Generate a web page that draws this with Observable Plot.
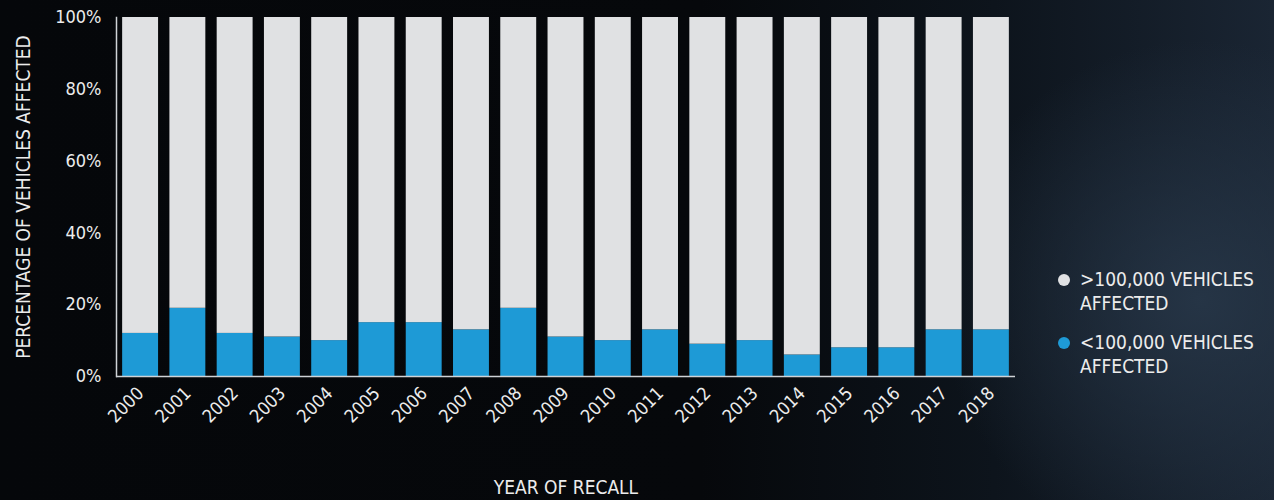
<!DOCTYPE html>
<html>
<head>
<meta charset="utf-8">
<script src="https://cdn.jsdelivr.net/npm/d3@7"></script>
<script src="https://cdn.jsdelivr.net/npm/@observablehq/plot@0.6"></script>
<style>
  html, body { margin: 0; padding: 0; }
  body {
    width: 1274px; height: 500px; overflow: hidden; position: relative;
    background:
      radial-gradient(ellipse 260px 260px at 1200px 300px, rgba(40,56,74,0.85), rgba(20,28,38,0) 100%),
      linear-gradient(to right, #05070a 0%, #06080b 55%, #0d141c 78%, #1a2533 100%);
    font-family: "DejaVu Sans Condensed", "DejaVu Sans", sans-serif;
    color: #ececec;
  }
  #chart { position: absolute; left: 0; top: 0; }
  .legend { position: absolute; left: 1056px; top: 267px; font-size: 19px; line-height: 24px; }
  .item { position: relative; padding-left: 24px; margin-bottom: 15px; }
  .dot { position: absolute; left: 2px; top: 7px; width: 12px; height: 12px; border-radius: 50%; }
</style>
</head>
<body>
<div id="chart"></div>
<div class="legend">
  <div class="item"><span class="dot" style="background:#e0e1e3"></span>&gt;100,000 VEHICLES<br>AFFECTED</div>
  <div class="item"><span class="dot" style="background:#1e9ad6"></span>&lt;100,000 VEHICLES<br>AFFECTED</div>
</div>
<script>
const years = ["2000","2001","2002","2003","2004","2005","2006","2007","2008","2009","2010","2011","2012","2013","2014","2015","2016","2017","2018"];
const under100k = [12,19,12,11,10,15,15,13,19,11,10,13,9,10,6,8,8,13,13];
const over100k  = [88,81,88,89,90,85,85,87,81,89,90,87,91,90,94,92,92,87,87];
const seriesNames = ["<100,000 VEHICLES AFFECTED", ">100,000 VEHICLES AFFECTED"];
const seriesColors = ["#1e9ad6", "#e0e1e3"];
const yTicks = [0, 20, 40, 60, 80, 100];

const rows = [];
years.forEach((y, i) => {
  rows.push({year: y, series: seriesNames[0], value: under100k[i]});
  rows.push({year: y, series: seriesNames[1], value: over100k[i]});
});

const chart = Plot.plot({
  width: 1274,
  height: 500,
  marginLeft: 116,
  marginRight: 259,
  marginTop: 17,
  marginBottom: 124,
  style: {background: "transparent", color: "#ececec", fontFamily: "'DejaVu Sans Condensed', 'DejaVu Sans', sans-serif"},
  x: {domain: years, paddingInner: 0.24, paddingOuter: 0.13, round: false},
  y: {domain: [0, 100]},
  color: {domain: seriesNames, range: seriesColors},
  marks: [
    Plot.barY(rows, {x: "year", y: "value", fill: "series", order: seriesNames}),
    Plot.axisY({
      ticks: yTicks, tickFormat: d => d + "%", tickSize: 0, tickPadding: 15,
      fontSize: 18,
      label: "PERCENTAGE OF VEHICLES AFFECTED", labelAnchor: "center", labelOffset: 100, labelArrow: false
    }),
    Plot.axisX({
      tickSize: 0, tickPadding: 14, tickRotate: -45, fontSize: 18,
      label: "YEAR OF RECALL", labelAnchor: "center", labelOffset: 117, labelArrow: false
    }),
    Plot.ruleY([0], {stroke: "#cfd2d6", strokeWidth: 1.5}),
    Plot.frame({anchor: "left", stroke: "#cfd2d6", strokeWidth: 1.5})
  ]
});
chart.querySelectorAll("[aria-label='y-axis label'], [aria-label='x-axis label']").forEach(g => g.setAttribute("font-size", 19));
document.getElementById("chart").appendChild(chart);
</script>
</body>
</html>
